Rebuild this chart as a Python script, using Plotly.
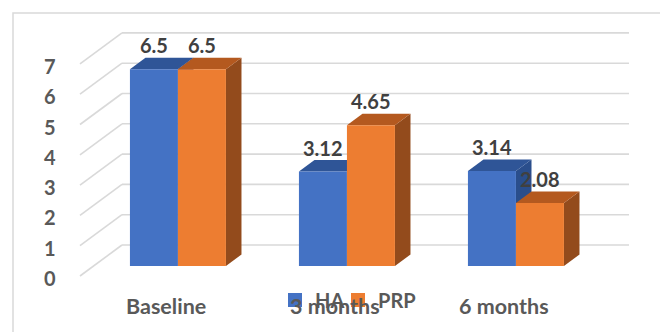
import plotly.graph_objects as go

# ---- data -------------------------------------------------------------
categories = ["Baseline", "3 months", "6 months"]
series_names = ["HA", "PRP"]
ha_values = [6.5, 3.12, 3.14]
prp_values = [6.5, 4.65, 2.08]
axis_ticks = [0, 1, 2, 3, 4, 5, 6, 7]

# ---- styling ----------------------------------------------------------
FRONT = {"HA": "#4472C4", "PRP": "#ED7D31"}
TOP = {"HA": "#2F5597", "PRP": "#B4591F"}
SIDE = {"HA": "#2A4E8C", "PRP": "#934B1C"}
GRID = "#D9D9D9"
TEXT = "#595959"
LABEL = "#404040"
FONT = "Lato"

# oblique 3-D projection: one unit of depth shifts a point right and up
DEPTH_X = 42 / 169      # in category units
DEPTH_Y = 31 / 30.3     # in value units
BAR_D0, BAR_D1 = 0.32, 0.69   # bars sit in the middle of the floor depth
BAR_W = 48 / 169
FLOOR = (-0.5, 2.5)


def proj(x, v, d):
    return x + d * DEPTH_X, v + d * DEPTH_Y


def poly(pts):
    xs = [p[0] for p in pts] + [pts[0][0]]
    ys = [p[1] for p in pts] + [pts[0][1]]
    return xs, ys


fig = go.Figure()

# ---- walls: back-wall gridlines and side-wall lines -------------------
gx, gy = [], []
for v in axis_ticks:
    for a, b in ((proj(FLOOR[0], v, 1), proj(FLOOR[1], v, 1)),
                 (proj(FLOOR[0], v, 0), proj(FLOOR[0], v, 1))):
        gx += [a[0], b[0], None]
        gy += [a[1], b[1], None]
fig.add_trace(go.Scatter(x=gx, y=gy, mode="lines",
                         line=dict(color=GRID, width=1.6),
                         hoverinfo="skip", showlegend=False))


def add_face(pts, color):
    xs, ys = poly(pts)
    fig.add_trace(go.Scatter(x=xs, y=ys, mode="lines", fill="toself",
                             fillcolor=color, line=dict(width=0, color=color),
                             hoverinfo="skip", showlegend=False))


# ---- 3-D bars (painter's order: side, top, front) ---------------------
labels = []
for i, cat in enumerate(categories):
    for name, vals, x0 in (("HA", ha_values, i - BAR_W), ("PRP", prp_values, i)):
        v = vals[i]
        x1 = x0 + BAR_W
        add_face([proj(x1, 0, BAR_D0), proj(x1, 0, BAR_D1),
                  proj(x1, v, BAR_D1), proj(x1, v, BAR_D0)], SIDE[name])
        add_face([proj(x0, v, BAR_D0), proj(x1, v, BAR_D0),
                  proj(x1, v, BAR_D1), proj(x0, v, BAR_D1)], TOP[name])
        add_face([proj(x0, 0, BAR_D0), proj(x1, 0, BAR_D0),
                  proj(x1, v, BAR_D0), proj(x0, v, BAR_D0)], FRONT[name])
        lx, ly = proj(x0 + BAR_W / 2, v, BAR_D0)
        labels.append((lx, ly, f"{v:g}"))

# legend entries, one legend box per series so the keys sit close together
for name, leg in zip(series_names, ("legend", "legend2")):
    fig.add_trace(go.Scatter(x=[None], y=[None], mode="markers", name=name,
                             legend=leg,
                             marker=dict(symbol="square", size=14,
                                         color=FRONT[name])))

annotations = []
for lx, ly, txt in labels:
    annotations.append(dict(x=lx, y=ly, xref="x", yref="y", text=txt,
                            showarrow=False, yanchor="middle", yshift=24,
                            font=dict(family=FONT, size=20, color=LABEL,
                                      weight="bold")))
for v in axis_ticks:
    annotations.append(dict(x=FLOOR[0], y=v, xref="x", yref="y", text=str(v),
                            showarrow=False, xanchor="right", yanchor="middle",
                            xshift=-22, yshift=-2,
                            font=dict(family=FONT, size=20, color=TEXT,
                                      weight="bold")))
for i, cat in enumerate(categories):
    annotations.append(dict(x=i + 0.01, y=-0.99, xref="x", yref="y", text=cat,
                            showarrow=False, yanchor="middle",
                            font=dict(family=FONT, size=21.5, color=TEXT,
                                      weight="bold")))

W, H = 660, 332
X0, Y0 = 164.5, 276      # pixel position of category 0, value 0 (front plane)
PX_CAT, PX_VAL = 169, 30.3

legend_style = dict(orientation="h", y=1 - 300 / H,
                    xanchor="left", yanchor="middle",
                    bgcolor="rgba(0,0,0,0)",
                    font=dict(family=FONT, size=20, color=TEXT, weight="bold"))

fig.update_layout(
    width=W, height=H,
    margin=dict(l=0, r=0, t=0, b=0),
    paper_bgcolor="white", plot_bgcolor="white",
    xaxis=dict(range=[-X0 / PX_CAT, (W - X0) / PX_CAT], visible=False,
               fixedrange=True),
    yaxis=dict(range=[(Y0 - H) / PX_VAL, Y0 / PX_VAL], visible=False,
               fixedrange=True),
    showlegend=True,
    legend=dict(x=275 / W, **legend_style),
    legend2=dict(x=338 / W, **legend_style),
    annotations=annotations,
    shapes=[dict(type="rect", xref="paper", yref="paper",
                 x0=13 / W, x1=1.02, y0=-0.02, y1=1 - 13 / H,
                 line=dict(color=GRID, width=1.5), layer="below")],
)

fig.write_html("out.html")
